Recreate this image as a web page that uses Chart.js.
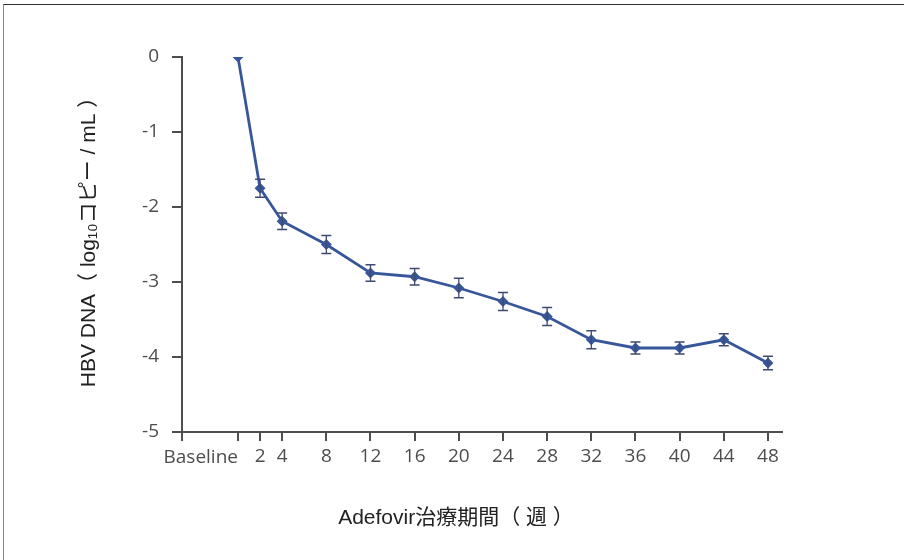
<!DOCTYPE html>
<html>
<head>
<meta charset="utf-8">
<script src="https://cdn.jsdelivr.net/npm/chart.js@4.4.1/dist/chart.umd.min.js"></script>
<style>
  html, body { margin: 0; padding: 0; background: #fff; }
  #wrap { position: relative; width: 904px; height: 560px; overflow: hidden; }
  #frame { position: absolute; left: 3px; top: 4px; width: 1000px; height: 1000px;
           border-top: 1px solid #333; border-left: 1px solid #888; pointer-events: none; }
  canvas { position: absolute; left: 0; top: 0; }
</style>
</head>
<body>
<div id="wrap">
  <div id="frame"></div>
  <canvas id="chart" width="904" height="560"></canvas>
</div>
<script>
// 数据
const weeks = [0, 2, 4, 8, 12, 16, 20, 24, 28, 32, 36, 40, 44, 48];
const dnaMean = [0, -1.75, -2.19, -2.5, -2.88, -2.93, -3.08, -3.26, -3.46, -3.77, -3.88, -3.88, -3.77, -4.08];
const dnaErr = [0, 0.12, 0.11, 0.12, 0.11, 0.11, 0.13, 0.12, 0.12, 0.12, 0.08, 0.08, 0.08, 0.09];
const yTickValues = [0, -1, -2, -3, -4, -5];
const baselineLabel = 'Baseline';
const xTitle = 'Adefovir治療期間（ 週 ）';
const yTitle = 'HBV DNA（ log₁₀コピー / mL ）';

const axisColor = '#4d4d4d';
const lineColor = '#37579a';
const tickFont = { family: '"Open Sans", "DejaVu Sans", sans-serif', size: 19 };
const titleFont = '21px "Liberation Sans", "Noto Sans CJK JP", sans-serif';

const X_MIN = -5.07;
const X_MAX = 49.27;

// 误差线
const errorBarPlugin = {
    id: 'errorBars',
    afterDatasetsDraw(chart) {
        const ctx = chart.ctx;
        const xs = chart.scales.x;
        const ys = chart.scales.y;
        ctx.save();
        ctx.strokeStyle = '#3f4a70';
        ctx.lineWidth = 1.3;
        weeks.forEach((w, i) => {
            if (!dnaErr[i]) return;
            const px = xs.getPixelForValue(w);
            const top = ys.getPixelForValue(dnaMean[i] + dnaErr[i]);
            const bot = ys.getPixelForValue(dnaMean[i] - dnaErr[i]);
            ctx.beginPath();
            ctx.moveTo(px, top); ctx.lineTo(px, bot);
            ctx.moveTo(px - 5, top); ctx.lineTo(px + 5, top);
            ctx.moveTo(px - 5, bot); ctx.lineTo(px + 5, bot);
            ctx.stroke();
        });
        ctx.restore();
    }
};

// 轴标题和 Baseline 标签
const labelsPlugin = {
    id: 'axisLabels',
    afterDraw(chart) {
        const ctx = chart.ctx;
        const xs = chart.scales.x;
        const area = chart.chartArea;
        ctx.save();
        // Baseline 右对齐到刻度
        ctx.font = `${tickFont.size}px ${tickFont.family}`;
        ctx.fillStyle = axisColor;
        ctx.textAlign = 'right';
        ctx.textBaseline = 'middle';
        ctx.fillText(baselineLabel, xs.getPixelForValue(0), xs.top + 14 + tickFont.size * 1.2 / 2);

        ctx.font = titleFont;
        ctx.fillStyle = '#222';
        ctx.textAlign = 'center';
        ctx.fillText(xTitle, area.left + 274, 518);

        ctx.translate(89, 237);
        ctx.rotate(-Math.PI / 2);
        ctx.fillText(yTitle, 0, 0);
        ctx.restore();
    }
};

function initChart() {
    const ctx = document.getElementById('chart').getContext('2d');
    new Chart(ctx, {
        type: 'line',
        data: {
            datasets: [{
                data: weeks.map((w, i) => ({ x: w, y: dnaMean[i] })),
                borderColor: lineColor,
                backgroundColor: lineColor,
                borderWidth: 2.8,
                pointStyle: 'rectRot',
                pointRadius: 3.5,
                tension: 0
            }]
        },
        options: {
            responsive: false,
            animation: false,
            layout: { padding: { top: 57, left: 0, right: 122, bottom: 0 } },
            plugins: { legend: { display: false }, tooltip: { enabled: false } },
            scales: {
                x: {
                    type: 'linear',
                    min: X_MIN,
                    max: X_MAX,
                    afterBuildTicks: (scale) => {
                        scale.ticks = [{ value: X_MIN }].concat(weeks.map(v => ({ value: v })));
                    },
                    afterFit: (scale) => { scale.height = 128; },
                    ticks: {
                        color: axisColor,
                        font: tickFont,
                        padding: 4,
                        maxRotation: 0,
                        autoSkip: false,
                        callback: (v) => (v === X_MIN || v === 0) ? '' : String(v)
                    },
                    grid: { drawOnChartArea: false, drawTicks: true, tickLength: 9, color: axisColor, lineWidth: 2 },
                    border: { display: true, color: axisColor, width: 2 }
                },
                y: {
                    type: 'linear',
                    min: -5,
                    max: 0,
                    afterBuildTicks: (scale) => {
                        scale.ticks = yTickValues.map(v => ({ value: v }));
                    },
                    afterFit: (scale) => { scale.width = 182; },
                    ticks: { color: axisColor, font: tickFont, padding: 13 },
                    grid: { drawOnChartArea: false, drawTicks: true, tickLength: 10, color: axisColor, lineWidth: 2 },
                    border: { display: true, color: axisColor, width: 2 }
                }
            }
        },
        plugins: [errorBarPlugin, labelsPlugin]
    });
}

initChart();
</script>
</body>
</html>
